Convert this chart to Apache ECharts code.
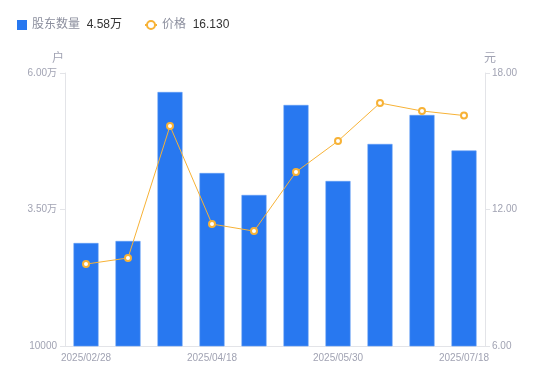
<!DOCTYPE html>
<html><head><meta charset="utf-8">
<script src="https://cdn.jsdelivr.net/npm/echarts@6/dist/echarts.min.js"></script>
<style>html,body{margin:0;padding:0;background:#fff}#c{width:550px;height:381px}</style>
</head><body><div id="c"></div>
<script>
var categories = ['2025/02/28','2025/03/10','2025/03/31','2025/04/18','2025/04/30','2025/05/20','2025/05/30','2025/06/10','2025/06/30','2025/07/18'];
var holders = [28860, 29230, 56520, 41680, 37660, 54140, 40220, 47000, 52310, 45800];
var prices = [9.60, 9.87, 15.67, 11.36, 11.05, 13.65, 15.01, 16.68, 16.33, 16.13];
var legendValues = {'股东数量':'4.58万','价格':'16.130'};
var leftTicks = {min:10000, max:60000, interval:25000};
var rightTicks = {min:6, max:18, interval:6};

var chart = echarts.init(document.getElementById('c'));
var labelColor = '#a1a3b3';
var lineColor = '#e3e4e8';
var ff = '"Liberation Sans", Arial, "Noto Sans CJK SC", sans-serif';
var legendText = {fontFamily:ff, rich:{a:{color:'#8c8f9e',fontSize:12,fontFamily:ff},b:{color:'#333',fontSize:12,fontFamily:ff}}};
var fmt = function(n){return '{a|'+n+'}  {b|'+legendValues[n]+'}';};
chart.setOption({
  animation:false,
  textStyle:{fontFamily:ff},
  legend:[{
    left:12, top:14, itemWidth:10, itemHeight:10, itemGap:10,
    data:[{name:'股东数量', icon:'rect', itemStyle:{borderWidth:0}}],
    formatter:fmt, textStyle:legendText
  },{
    left:139, top:14, itemWidth:12, itemHeight:10,
    data:[{name:'价格'}],
    formatter:fmt, textStyle:legendText
  }],
  grid:{left:65, right:65, top:73, bottom:35},
  xAxis:{
    type:'category', data:categories,
    axisLine:{lineStyle:{color:lineColor}},
    axisTick:{show:false},
    axisLabel:{color:labelColor, fontSize:10, interval:2, margin:7}
  },
  yAxis:[{
    type:'value', name:'户', min:leftTicks.min, max:leftTicks.max, interval:leftTicks.interval,
    nameTextStyle:{color:labelColor, fontSize:12, padding:[0,14,0,0]},
    nameGap:8,
    axisLine:{show:true, lineStyle:{color:lineColor}},
    axisTick:{show:true, length:5, lineStyle:{color:lineColor}},
    splitLine:{show:false},
    axisLabel:{color:labelColor, fontSize:10, margin:8,
      formatter:function(v){return v>=20000?(v/10000).toFixed(2)+'万':String(v);}}
  },{
    type:'value', name:'元', min:rightTicks.min, max:rightTicks.max, interval:rightTicks.interval,
    nameTextStyle:{color:labelColor, fontSize:12, padding:[0,0,0,10]},
    nameGap:8,
    axisLine:{show:true, lineStyle:{color:lineColor}},
    axisTick:{show:true, length:5, lineStyle:{color:lineColor}},
    splitLine:{show:false},
    axisLabel:{color:labelColor, fontSize:10, margin:7,
      formatter:function(v){return v.toFixed(2);}}
  }],
  series:[{
    name:'股东数量', type:'bar', data:holders, barWidth:25, yAxisIndex:0,
    itemStyle:{color:'#2878f0', borderColor:'#5e9af5', borderWidth:0.6}
  },{
    name:'价格', type:'line', data:prices, yAxisIndex:1,
    symbol:'circle', symbolSize:6,
    lineStyle:{color:'#f7b236', width:1},
    itemStyle:{color:'#fff', borderColor:'#f7b236', borderWidth:2}
  }]
});
</script></body></html>
